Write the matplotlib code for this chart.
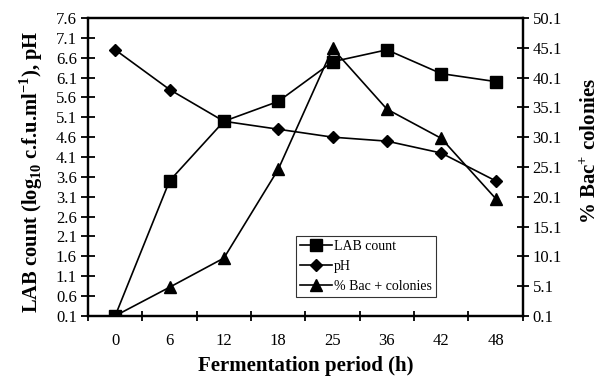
import matplotlib
matplotlib.use('Agg')
import matplotlib.pyplot as plt
import numpy as np

plt.rcParams['font.family'] = 'Liberation Serif'
plt.rcParams['mathtext.fontset'] = 'custom'
plt.rcParams['mathtext.rm'] = 'Liberation Serif'
plt.rcParams['mathtext.bf'] = 'Liberation Serif:bold'

hours = ['0', '6', '12', '18', '25', '36', '42', '48']
lab_count = [0.1, 3.5, 5.0, 5.5, 6.5, 6.8, 6.2, 6.0]
ph = [6.8, 5.8, 5.0, 4.8, 4.6, 4.5, 4.2, 3.5]
bac_pos = [0.1, 4.9, 9.8, 24.7, 45.0, 34.8, 29.9, 19.8]

left_ticks = np.arange(0.1, 7.61, 0.5)
right_ticks = np.arange(0.1, 50.11, 5)

fig = plt.figure(figsize=(6.03, 3.76), dpi=100)
ax = fig.add_axes([0.146, 0.16, 0.721, 0.792])
ax2 = ax.twinx()

x = np.arange(len(hours))
l1, = ax.plot(x, lab_count, color='black', lw=1.2, marker='s', ms=8.5, label='LAB count')
l2, = ax.plot(x, ph, color='black', lw=1.2, marker='D', ms=6.5, label='pH')
l3, = ax2.plot(x, bac_pos, color='black', lw=1.2, marker='^', ms=9, label='% Bac + colonies')

ax.set_xlim(-0.5, len(hours) - 0.5)
ax.set_ylim(0.1, 7.6)
ax2.set_ylim(0.1, 50.1)

# ticks sit between categories, labels at category centres
ax.set_xticks(np.arange(-0.5, len(hours), 1))
ax.set_xticklabels([])
ax.set_xticks(x, minor=True)
ax.set_xticklabels(hours, minor=True)
ax.tick_params(axis='x', which='major', direction='inout', length=7, width=1.3)
ax.tick_params(axis='x', which='minor', length=0, labelsize=12, pad=12)

ax.set_yticks(left_ticks)
ax.set_yticklabels(['%.1f' % v for v in left_ticks])
ax.tick_params(axis='y', direction='inout', length=10, width=1.3, labelsize=12, pad=3)

ax2.set_yticks(right_ticks)
ax2.set_yticklabels(['%.1f' % v for v in right_ticks])
ax2.tick_params(axis='y', direction='inout', length=8, width=1.3, labelsize=12, pad=3)

for a in (ax, ax2):
    for s in a.spines.values():
        s.set_linewidth(1.6)

ax.set_xlabel('Fermentation period (h)', fontsize=15, fontweight='bold')
ax.xaxis.set_label_coords(0.5, -0.135)
ax.set_ylabel(r'LAB count (log$_{\mathbf{10}}$ c.f.u.ml$^{\mathbf{-1}}$), pH',
              fontsize=14.8, fontweight='bold')
ax.yaxis.set_label_coords(-0.1, 0.483)
ax2.set_ylabel(r'% Bac$^{\mathbf{+}}$ colonies', fontsize=15, fontweight='bold',
               rotation=90)
ax2.yaxis.set_label_coords(1.131, 0.554)

leg = ax.legend(handles=[l1, l2, l3], loc='lower left',
                bbox_to_anchor=(0.478, 0.064, 0.322, 0.22), mode='expand',
                fontsize=10, frameon=True, fancybox=False, handlelength=2.3,
                borderpad=0.3, labelspacing=0.5, handletextpad=0.15, borderaxespad=0)
leg.get_frame().set_edgecolor('black')
leg.get_frame().set_linewidth(0.8)

fig.savefig('out.png', dpi=100)
